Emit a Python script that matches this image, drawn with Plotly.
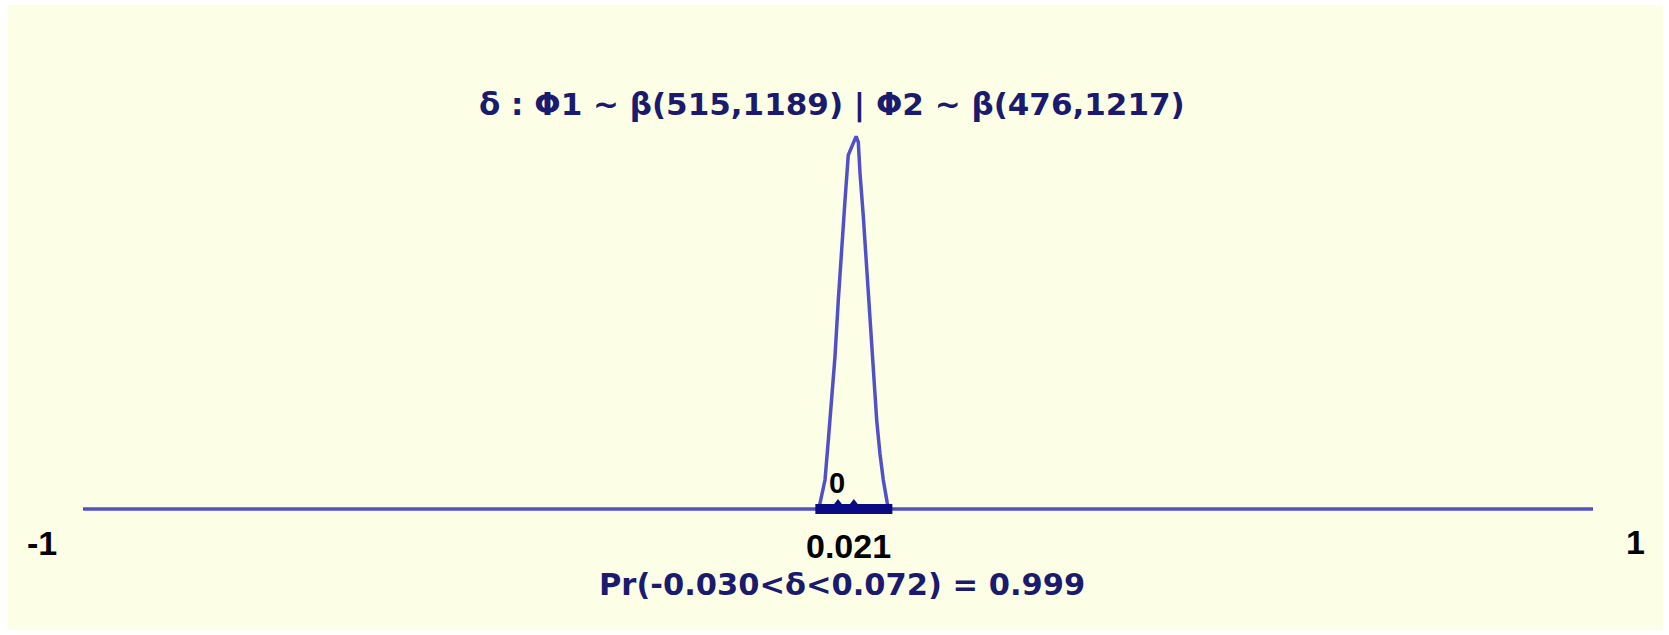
import plotly.graph_objects as go

# ---- data ----
axis_x = [-1, 1]
axis_y = [0, 0]

curve_delta = [-0.0255, -0.0238, -0.0172, -0.0128, -0.0083, -0.0040, 0.0004, 0.0049,
               0.0093, 0.0136, 0.0203, 0.0240, 0.0269, 0.0291, 0.0335, 0.0380, 0.0424,
               0.0468, 0.0513, 0.0556, 0.0600, 0.0653, 0.0670]
curve_density = [0.0, 0.41, 2.0, 4.76, 7.52, 10.5, 14.4, 18.3,
                 21.3, 24.4, 25.3, 25.7, 25.3, 23.2, 20.2, 16.5, 12.6,
                 9.1, 6.1, 3.8, 2.0, 0.41, 0.0]

interval = [-0.030, 0.072]
mean_delta = 0.021
marks_x = [0.0, 0.021]
marks_y = [0.45, 0.45]

title_text = "δ : Φ1 ~ β(515,1189) | Φ2 ~ β(476,1217)"
prob_text = "Pr(-0.030<δ<0.072) = 0.999"
tick_left = "-1"
tick_right = "1"
zero_label = "0"
mean_label = "0.021"

W, H = 1669, 635
BG = "#FDFEE6"
LINE = "#5050C8"
NAVY = "#0A0A82"
TXT = "#1A1A6E"


def px(p):
    return p / W


def py(p):
    return 1 - p / H


fig = go.Figure()
fig.add_trace(go.Scatter(x=axis_x, y=axis_y, mode="lines",
                         line=dict(color=LINE, width=3.5), hoverinfo="skip"))
fig.add_trace(go.Scatter(x=curve_delta, y=curve_density, mode="lines",
                         line=dict(color=LINE, width=3.5), hoverinfo="skip"))
fig.add_trace(go.Scatter(x=interval, y=[0, 0], mode="lines",
                         line=dict(color=NAVY, width=10), hoverinfo="skip"))
fig.add_trace(go.Scatter(x=marks_x, y=marks_y, mode="markers",
                         marker=dict(symbol="triangle-up", size=7, color=NAVY),
                         hoverinfo="skip"))

fig.add_shape(type="rect", xref="paper", yref="paper",
              x0=px(8), x1=px(1663), y0=py(630), y1=py(5),
              fillcolor=BG, line=dict(width=0), layer="below")

ann = []
ann.append(dict(text="<b>" + title_text + "</b>", x=px(832), y=py(104),
                font=dict(family="DejaVu Sans", size=31, color=TXT)))
ann.append(dict(text="<b>" + prob_text + "</b>", x=px(842), y=py(584),
                font=dict(family="DejaVu Sans", size=30.5, color=TXT)))
ann.append(dict(text="<b>" + mean_label + "</b>", x=px(848), y=py(546),
                font=dict(family="Liberation Sans", size=34, color="#000000")))
ann.append(dict(text="<b>" + tick_left + "</b>", x=px(42), y=py(543),
                font=dict(family="Liberation Sans", size=34, color="#000000")))
ann.append(dict(text="<b>" + tick_right + "</b>", x=px(1635), y=py(542),
                font=dict(family="Liberation Sans", size=34, color="#000000")))
ann.append(dict(text="<b>" + zero_label + "</b>", x=px(837), y=py(483),
                font=dict(family="Liberation Sans", size=29, color="#000000")))
for a in ann:
    a.update(xref="paper", yref="paper", showarrow=False,
             xanchor="center", yanchor="middle")

fig.update_layout(
    width=W, height=H,
    margin=dict(l=0, r=0, t=0, b=0),
    paper_bgcolor="#FFFFFF",
    plot_bgcolor="rgba(0,0,0,0)",
    showlegend=False,
    annotations=ann,
    xaxis=dict(range=[-1 - 83 / 755, 1 + 76 / 755], visible=False, fixedrange=True),
    yaxis=dict(range=[-(635 - 509) / 14.5, 509 / 14.5], visible=False, fixedrange=True),
)

fig.write_html("out.html")
